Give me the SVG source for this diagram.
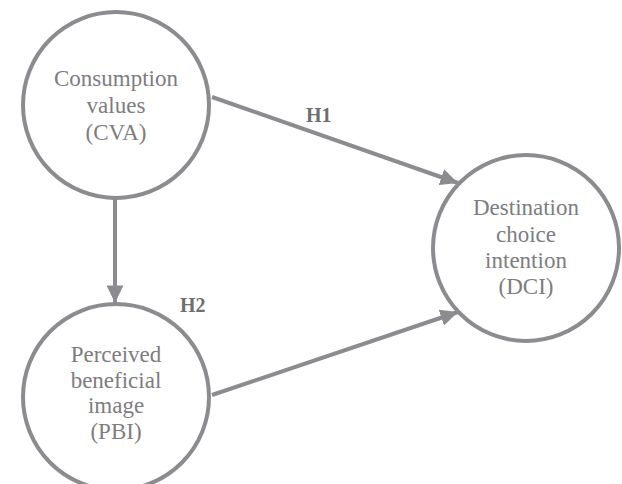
<svg xmlns="http://www.w3.org/2000/svg" width="622" height="484" viewBox="0 0 622 484">
<style>
.node{fill:#fff;stroke:#8c8c90;stroke-width:4}
.lbl{font-family:"Liberation Serif",serif;font-size:23px;fill:#7d7d80;text-anchor:middle}
.h{font-family:"Liberation Serif",serif;font-size:20px;font-weight:bold;fill:#6e6e72}
.edge{stroke:#8c8c90;stroke-width:4;fill:none}
</style>
<defs>
<marker id="arr" markerWidth="4.4" markerHeight="4.2" refX="4.4" refY="2.1" orient="auto" markerUnits="strokeWidth" viewBox="0 0 4.4 4.2">
<path d="M0,0 L4.4,2.1 L0,4.2 Z" fill="#8c8c90"/>
</marker>
</defs>
<rect width="622" height="484" fill="#fff"/>
<g id="connectors">
<line class="edge" x1="212" y1="97" x2="458" y2="183" marker-end="url(#arr)"/>
<line class="edge" x1="115" y1="198" x2="115" y2="303" marker-end="url(#arr)"/>
<line class="edge" x1="212" y1="395" x2="458" y2="312" marker-end="url(#arr)"/>
<text class="h" x="306" y="122">H1</text>
<text class="h" x="180" y="312">H2</text>
</g>
<g id="CVA">
<circle class="node" cx="116" cy="105" r="93"/>
<text class="lbl" x="116" y="86">Consumption</text>
<text class="lbl" x="116" y="113">values</text>
<text class="lbl" x="116" y="140">(CVA)</text>
</g>
<g id="PBI">
<circle class="node" cx="116" cy="397" r="93"/>
<text class="lbl" x="116" y="362">Perceived</text>
<text class="lbl" x="116" y="388">beneficial</text>
<text class="lbl" x="116" y="413">image</text>
<text class="lbl" x="116" y="439">(PBI)</text>
</g>
<g id="DCI">
<circle class="node" cx="526" cy="248" r="93"/>
<text class="lbl" x="526" y="215">Destination</text>
<text class="lbl" x="526" y="242">choice</text>
<text class="lbl" x="526" y="268">intention</text>
<text class="lbl" x="526" y="294">(DCI)</text>
</g>
</svg>
